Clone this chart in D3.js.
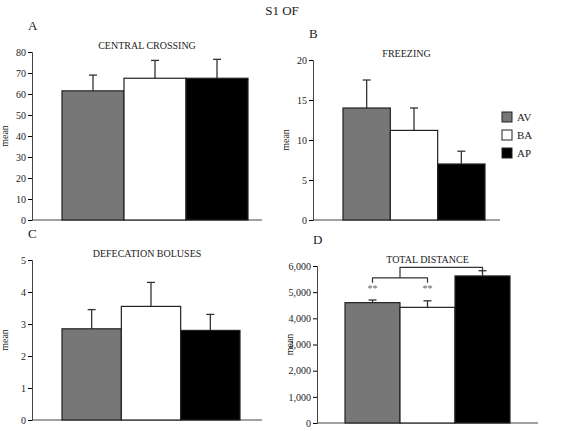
<!DOCTYPE html>
<html><head><meta charset="utf-8">
<script src="https://cdn.jsdelivr.net/npm/d3@7"></script>
<style>body{margin:0;background:#fff}text{font-family:"Liberation Serif","DejaVu Serif",serif;fill:#222}</style>
</head><body>
<script>
// data
var groups = ["AV", "BA", "AP"];
var colors = ["#777777", "#ffffff", "#000000"];
var crossMean = [61.5, 67.5, 67.5], crossErr = [7.5, 8.5, 9];
var freezeMean = [14, 11.2, 7], freezeErr = [3.5, 2.8, 1.6];
var bolusMean = [2.85, 3.55, 2.8], bolusErr = [0.6, 0.75, 0.5];
var distMean = [4600, 4420, 5620], distErr = [100, 250, 200];

var svg = d3.select("body").append("svg").attr("width", 564).attr("height", 431);
svg.append("text").attr("x", 282).attr("y", 15).attr("text-anchor", "middle").style("font-size", "13px").text("S1 OF");

function panel(o) {
  var y = d3.scaleLinear().domain([0, o.max]).range([o.bottom, o.top]);
  var x = d3.scaleBand().domain(groups).range([o.bx0, o.bx1]).padding(0);
  var g = svg.append("g");
  g.append("g").attr("transform", "translate(" + o.left + ",0)")
    .call(d3.axisLeft(y).ticks(o.ticks).tickSize(4).tickPadding(2))
    .call(a => a.select(".domain").attr("stroke", "#444"))
    .call(a => a.selectAll("text").style("font-size", "10px").style("font-family", "Liberation Serif"));
  g.append("line").attr("x1", o.left).attr("x2", o.right).attr("y1", o.bottom).attr("y2", o.bottom).attr("stroke", "#444");
  o.mean.forEach(function(m, i) {
    var cx = x(groups[i]) + x.bandwidth() / 2;
    g.append("line").attr("x1", cx).attr("x2", cx).attr("y1", y(m)).attr("y2", y(m + o.err[i])).attr("stroke", "#333").attr("stroke-width", 1.3);
    g.append("line").attr("x1", cx - 4).attr("x2", cx + 4).attr("y1", y(m + o.err[i])).attr("y2", y(m + o.err[i])).attr("stroke", "#333").attr("stroke-width", 1.3);
    g.append("rect").attr("x", x(groups[i])).attr("width", x.bandwidth()).attr("y", y(m)).attr("height", o.bottom - y(m))
      .attr("fill", colors[i]).attr("stroke", "#222").attr("stroke-width", 1.2);
  });
  g.append("text").attr("x", o.left - 4).attr("y", o.top - 22).style("font-size", "13px").text(o.letter);
  g.append("text").attr("x", (o.left + o.right) / 2).attr("y", o.top - 3).attr("text-anchor", "middle").style("font-size", "10px").text(o.title);
  g.append("text").attr("transform", "translate(" + (o.left - 24) + "," + ((o.top + o.bottom) / 2) + ") rotate(-90)")
    .attr("text-anchor", "middle").style("font-size", "10px").text("mean");
  return {x: x, y: y, g: g};
}

panel({left: 32, right: 262, top: 52, bottom: 220, bx0: 62, bx1: 248, max: 80, ticks: 8, mean: crossMean, err: crossErr, letter: "A", title: "CENTRAL CROSSING"});
panel({left: 313, right: 500, top: 60, bottom: 220, bx0: 343, bx1: 485, max: 20, ticks: 4, mean: freezeMean, err: freezeErr, letter: "B", title: "FREEZING"});
panel({left: 32, right: 262, top: 260, bottom: 420, bx0: 62, bx1: 240, max: 5, ticks: 5, mean: bolusMean, err: bolusErr, letter: "C", title: "DEFECATION BOLUSES"});
var d = panel({left: 317, right: 538, top: 266, bottom: 423, bx0: 345, bx1: 510, max: 6000, ticks: 6, mean: distMean, err: distErr, letter: "D", title: "TOTAL DISTANCE"});

// significance bracket in D
var cx = groups.map(k => d.x(k) + d.x.bandwidth() / 2);
var b1 = d.y(5550), b2 = d.y(5950);
var br = d.g.append("path").attr("fill", "none").attr("stroke", "#333").attr("stroke-width", 1.2);
var mid = (cx[0] + cx[1]) / 2;
br.attr("d", "M" + cx[0] + "," + (b1 + 5) + "V" + b1 + "H" + cx[1] + "V" + (b1 + 5) +
  "M" + mid + "," + b1 + "V" + b2 + "H" + cx[2] + "V" + (b2 + 6));
[0, 1].forEach(function(i) {
  d.g.append("text").attr("x", cx[i]).attr("y", d.y(5000)).attr("text-anchor", "middle").style("font-size", "10px").style("fill", "#666").text("**");
});

// legend
var lg = svg.append("g").attr("transform", "translate(502,112)");
groups.forEach(function(k, i) {
  lg.append("rect").attr("x", 0).attr("y", i * 18).attr("width", 10).attr("height", 10).attr("fill", colors[i]).attr("stroke", "#222");
  lg.append("text").attr("x", 15).attr("y", i * 18 + 9).style("font-size", "11px").text(k);
});
</script>
</body></html>
